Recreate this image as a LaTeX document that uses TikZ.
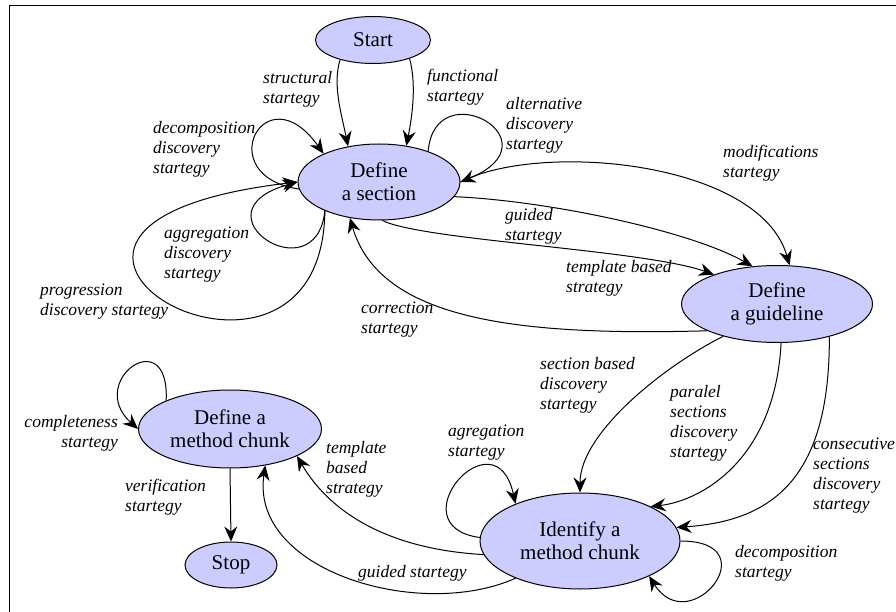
\documentclass[tikz,border=0pt]{standalone}
\usepackage{fontspec}
\setmainfont{Liberation Serif}
\usetikzlibrary{shapes.geometric,arrows.meta}
\definecolor{lav}{HTML}{CCCCFF}
\begin{document}
\begin{tikzpicture}[x=1pt,y=1pt,
  state/.style={draw,fill=lav,ellipse,line width=1pt,inner sep=0pt,
    align=center,font=\fontsize{21}{23}\selectfont},
  lbl/.style={inner sep=0pt,anchor=west,align=left,
    font=\fontsize{17.5}{20}\selectfont\itshape},
  edge/.style={line width=1pt,-{Stealth[length=15pt,width=13pt,inset=5pt]}}]
\clip (0,0) rectangle (896,611);
% outer frame
\draw[line width=1.5pt] (9.5,-10) -- (9.5,605.5) -- (910,605.5);

% states
\node[state,minimum width=115pt,minimum height=47pt] (start) at (373,571) {Start};
\node[state,minimum width=162pt,minimum height=76pt] (sec) at (379,429) {Define\\a section};
\node[state,minimum width=191pt,minimum height=77pt] (guide) at (777,307) {Define\\a guideline};
\node[state,minimum width=183pt,minimum height=78pt] (mdef) at (230,182) {Define a\\method chunk};
\node[state,minimum width=92pt,minimum height=46pt] (stop) at (231,46) {Stop};
\node[state,minimum width=200pt,minimum height=96pt] (ident) at (580,70) {Identify a\\method chunk};

% Start -> Define a section
\draw[edge] (start.211) .. controls +(-8,-25) and +(-6,30) .. (sec.131);
\draw[edge] (start.333) .. controls +(7,-25) and +(6,30) .. (sec.53);

% loops on Define a section
\draw[edge] (sec.185) .. controls (210,435) and (265,540) .. (sec.153);
\draw[edge] (sec.208) .. controls (316,315) and (190,399) .. (sec.west);
\draw[edge] (sec.208) .. controls (322,160) and (-80,385) .. (sec.west);
\draw[edge] (sec.32) .. controls (435,540) and (560,470) .. (sec.east);

% Define a section <-> Define a guideline
\draw[edge] (sec.east) .. controls (540,470) and (760,450) .. (guide.72);
\draw[edge] (sec.349) .. controls (550,410) and (690,380) .. (guide.123);
\draw[edge] (sec.275) .. controls +(40,-20) and +(-70,25) .. (guide.155);
\draw[edge] (guide.201) .. controls (520,275) and (380,290) .. (sec.231);

% Define a guideline -> Identify a method chunk
\draw[edge] (guide.211) .. controls (664,245) and (580,178) .. (ident.north);
\draw[edge] (guide.276) .. controls (775,150) and (700,110) .. (ident.26);
\draw[edge] (guide.328) .. controls (830,130) and (770,90) .. (ident.8);

% loops on Identify a method chunk
\draw[edge] (ident.178) .. controls (395,85) and (495,200) .. (ident.150);
\draw[edge] (ident.east) .. controls (770,70) and (690,-30) .. (ident.333);

% Identify a method chunk -> Define a method chunk
\draw[edge] (ident.188) .. controls +(-90,5) and +(35,-60) .. (mdef.338);
\draw[edge] (ident.210) .. controls (420,-10) and (250,40) .. (mdef.314);

% Define a method chunk
\draw[edge] (mdef.156) .. controls (170,290) and (85,230) .. (mdef.west);
\draw[edge] (mdef.south) -- (stop.north);

% labels
\node[lbl] (lstruct) at (263,522) {structural\\startegy};
\node[lbl] (lfunc) at (427,524) {functional\\startegy};
\node[lbl] (ldecomp) at (153,462) {decomposition\\discovery\\startegy};
\node[lbl] (lalt) at (506,486) {alternative\\discovery\\startegy};
\node[lbl] (lmod) at (723,448) {modifications\\startegy};
\node[lbl] (laggr) at (164,356) {aggregation\\discovery\\startegy};
\node[lbl] (lprog) at (40,309.5) {progression\\discovery startegy};
\node[lbl] (lguided) at (505,385) {guided\\startegy};
\node[lbl] (ltmpl) at (566,333) {template based\\strategy};
\node[lbl] (lcorr) at (361,291) {correction\\startegy};
\node[lbl] (lsecb) at (540,226) {section based\\discovery\\startegy};
\node[lbl] (lpar) at (670,188) {paralel\\sections\\discovery\\startegy};
\node[lbl] (lcons) at (813,135) {consecutive\\sections\\discovery\\startegy};
\node[lbl] (lagreg) at (448,168) {agregation\\startegy};
\node[lbl] (ldec) at (735,48) {decomposition\\startegy};
\node[lbl,anchor=east,align=right] (lcomp) at (118,178) {completeness\\startegy};
\node[lbl] (lverif) at (125,114) {verification\\startegy};
\node[lbl] (ltmpl2) at (326,142) {template\\based\\strategy};
\node[lbl] (lguided2) at (358,38) {guided startegy};
\end{tikzpicture}
\end{document}
